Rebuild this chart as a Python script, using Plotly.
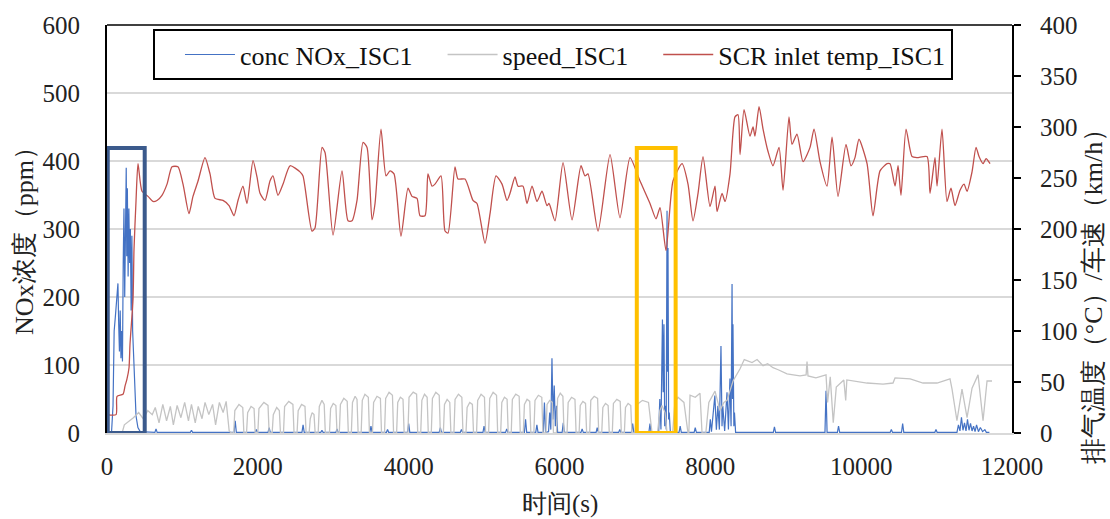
import plotly.graph_objects as go

# ---------------- data ----------------
# SCR inlet temperature (°C), right axis
temp_t = [0, 120, 133, 212, 239, 265, 292, 305, 345, 358, 385, 411, 464, 544, 610, 663, 729, 796, 862, 941,
          1008, 1087, 1140, 1207, 1299, 1366, 1432, 1538, 1618, 1684, 1737, 1803, 1856, 1936, 1989, 2029,
          2095, 2161, 2201, 2267, 2334, 2427, 2559, 2599, 2718, 2758, 2851, 2891, 2997, 3116, 3196, 3249,
          3315, 3395, 3448, 3514, 3554, 3633, 3700, 3753, 3806, 3898, 3991, 4044, 4111, 4150, 4217, 4256,
          4310, 4349, 4429, 4482, 4522, 4614, 4654, 4747, 4853, 4906, 5012, 5079, 5158, 5238, 5304, 5344,
          5410, 5450, 5516, 5569, 5636, 5702, 5768, 5834, 5861, 5940, 6047, 6166, 6285, 6338, 6378, 6511,
          6670, 6802, 6935, 7068, 7200, 7280, 7333, 7412, 7505, 7625, 7704, 7770, 7837, 7903, 7996, 8062,
          8089, 8155, 8195, 8261, 8327, 8367, 8394, 8447, 8526, 8566, 8592, 8646, 8699, 8765, 8831, 8911,
          8964, 9043, 9083, 9149, 9229, 9322, 9375, 9454, 9547, 9614, 9693, 9799, 9865, 9918, 9971, 10078,
          10157, 10250, 10343, 10383, 10449, 10489, 10528, 10595, 10674, 10741, 10873, 10913, 10979, 11006,
          11072, 11138, 11191, 11244, 11311, 11364, 11404, 11470, 11523, 11563, 11616, 11656, 11709]
temp_c = [18, 18, 36, 38, 46, 53, 64, 87, 131, 180, 228, 264, 237, 232, 227, 228, 233, 244, 261, 261,
          244, 215, 232, 247, 270, 254, 230, 228, 223, 213, 228, 242, 225, 267, 251, 235,
          228, 247, 252, 233, 244, 262, 256, 252, 198, 201, 280, 275, 194, 257, 208, 208,
          228, 285, 280, 209, 225, 298, 252, 257, 254, 193, 240, 232, 230, 213, 213, 254,
          242, 244, 252, 198, 196, 261, 249, 249, 228, 225, 186, 215, 252, 244, 228, 235,
          251, 242, 242, 225, 242, 227, 237, 223, 225, 208, 265, 209, 262, 252, 254, 198,
          273, 211, 270, 247, 225, 210, 221, 179, 247, 264, 244, 208, 235, 271, 222, 242,
          217, 235, 227, 254, 310, 312, 273, 317, 291, 300, 291, 320, 298, 276, 262, 280,
          238, 310, 283, 293, 266, 280, 298, 266, 242, 290, 232, 283, 262, 270, 288, 264,
          213, 257, 264, 264, 242, 262, 233, 298, 271, 270, 271, 235, 270, 242,
          298, 227, 240, 223, 238, 244, 237, 256, 280, 271, 264, 269, 264]

# vehicle speed (km/h), right axis
speed_t = [0, 200, 230, 300, 350, 420, 480, 540, 600,
           640, 690, 740, 790, 840, 880, 930, 980, 1030, 1080, 1120, 1170, 1210, 1260, 1300, 1350, 1400, 1440,
           1490, 1540, 1580, 1620, 1650,
           1680, 1695, 1750, 1800, 1815,
           1850, 1865, 1910, 1950, 1965,
           2000, 2015, 2080, 2135, 2150,
           2190, 2205, 2250, 2285, 2300,
           2340, 2355, 2410, 2465, 2480,
           2520, 2535, 2580, 2625, 2640,
           2680, 2695, 2720, 2745, 2760,
           2800, 2815, 2850, 2880, 2895,
           2950, 2965, 3000, 3035, 3050,
           3080, 3095, 3140, 3185, 3200,
           3240, 3255, 3290, 3315, 3330,
           3370, 3385, 3420, 3465, 3480,
           3520, 3535, 3580, 3625, 3640,
           3680, 3695, 3740, 3785, 3800,
           3840, 3855, 3890, 3925, 3940,
           3990, 4005, 4060, 4105, 4120,
           4160, 4175, 4210, 4245, 4260,
           4300, 4315, 4360, 4405, 4420,
           4460, 4475, 4510, 4545, 4560,
           4600, 4615, 4660, 4705, 4720,
           4760, 4775, 4810, 4845, 4860,
           4900, 4915, 4960, 5005, 5020,
           5060, 5075, 5120, 5165, 5180,
           5220, 5235, 5270, 5305, 5320,
           5360, 5375, 5420, 5465, 5480,
           5520, 5535, 5570, 5605, 5620,
           5660, 5675, 5720, 5765, 5780,
           5820, 5835, 5870, 5905, 5920,
           5960, 5975, 6010, 6045, 6060,
           6100, 6115, 6160, 6205, 6220,
           6260, 6275, 6310, 6345, 6360,
           6400, 6415, 6460, 6505, 6520,
           6560, 6575, 6610, 6645, 6660,
           6700, 6715, 6760, 6805, 6820,
           6860, 6875, 6910, 6945, 6960,
           7000, 7030, 7100, 7180, 7227,
           7300, 7330, 7359, 7400, 7426,
           7500, 7530, 7571, 7650, 7704,
           7715, 7731, 7800, 7863, 7890,
           7940, 7980, 8062, 8128, 8180, 8221, 8301, 8394, 8450, 8553, 8620, 8699, 8760, 8831, 8900,
           9017, 9100, 9189, 9270, 9282, 9295, 9400, 9534, 9555, 9590, 9630, 9670, 9770, 9795, 9810,
           10078, 10290, 10422, 10449, 10650, 10820, 11006, 11178, 11205, 11270, 11337, 11404, 11470,
           11550, 11616, 11669, 11735]
speed_kmh = [0, 0, 8, 12, 15, 20, 14, 22, 18,
             25, 10, 28, 12, 26, 8, 27, 15, 30, 12, 28, 10, 26, 14, 30, 18, 28, 8,
             30, 20, 31, 2, 0,
             0, 22, 28, 25, 0,
             0, 20, 26, 24, 0,
             0, 24, 30, 27, 0,
             0, 18, 25, 22, 0,
             0, 26, 31, 28, 0,
             0, 22, 28, 26, 0,
             0, 14, 20, 18, 0,
             0, 26, 32, 28, 0,
             0, 24, 29, 27, 0,
             0, 28, 34, 31, 0,
             0, 30, 36, 33, 0,
             0, 32, 38, 35, 0,
             0, 30, 36, 34, 0,
             0, 34, 40, 37, 0,
             0, 30, 35, 33, 0,
             0, 35, 40, 38, 0,
             0, 32, 38, 35, 0,
             0, 34, 40, 37, 0,
             0, 28, 33, 30, 0,
             0, 33, 38, 35, 0,
             0, 25, 30, 28, 0,
             0, 32, 38, 35, 0,
             0, 34, 40, 37, 0,
             0, 30, 35, 33, 0,
             0, 33, 38, 36, 0,
             0, 28, 33, 31, 0,
             0, 32, 37, 35, 0,
             0, 28, 32, 30, 0,
             0, 34, 39, 36, 0,
             0, 30, 35, 33, 0,
             0, 27, 31, 29, 0,
             0, 32, 36, 34, 0,
             0, 25, 29, 27, 0,
             0, 29, 33, 31, 0,
             0, 25, 29, 27, 0,
             0, 28, 32, 30, 0,
             0, 22, 27, 20, 0,
             0, 30, 35, 30, 0,
             0, 37, 35, 39, 0,
             0, 30, 41, 22, 30, 32, 51, 63, 72, 69, 72, 66, 68, 64, 62,
             58, 57, 56, 57, 70, 56, 54, 57, 30, 55, 10, 45, 52, 32, 52,
             49, 48, 49, 54, 53, 49, 49, 53, 43, 12, 43, 15, 44,
             57, 12, 51, 51]

# NOx concentration (ppm), left axis
nox_t = [0, 60, 80, 95, 110, 130, 145, 155, 165, 175, 185, 195, 205, 215, 225, 235, 245, 255, 262, 270,
         280, 290, 300, 310, 320, 330, 340, 350, 365, 385, 410, 440,
         635, 650, 665, 1105, 1120, 1135, 1685, 1700, 1715, 1965, 1980, 1995, 2135, 2150, 2165,
         2585, 2600, 2615, 2835, 2850, 2865, 3035, 3050, 3065, 3485, 3500, 3515, 3705, 3720, 3735,
         3985, 4000, 4015, 4405, 4420, 4435, 4685, 4700, 4715, 4985, 5000, 5015, 5285, 5300, 5315,
         5535, 5550, 5565, 5685, 5700, 5715, 5785, 5800, 5815,
         5855, 5870, 5885, 5900, 5915, 5930, 5945, 5960, 5975,
         6035, 6050, 6065, 6285, 6300, 6315, 6485, 6500, 6515, 6785, 6800, 6815, 6955, 6970, 6985,
         7185, 7200, 7215,
         7315, 7330, 7345, 7365, 7375, 7385, 7395, 7405, 7415, 7426, 7433, 7439, 7447, 7455, 7470,
         7585, 7600, 7615, 7785, 7800, 7815,
         7985, 8000, 8015, 8060, 8080, 8100, 8120, 8141, 8155, 8165, 8190, 8221, 8240, 8260, 8275,
         8288, 8295, 8300, 8312, 8320, 8335,
         8835, 8850, 8865, 9520, 9534, 9548, 9685, 9700, 9715, 10385, 10400, 10415, 10535, 10550, 10565,
         10977, 10992, 11007,
         11270, 11290, 11310, 11330, 11350, 11370, 11390, 11410, 11430, 11450, 11470, 11490, 11510, 11530,
         11555, 11580, 11610, 11640, 11660, 11700]
nox_ppm = [1, 1, 40, 150, 170, 200, 220, 160, 120, 180, 110, 150, 105, 250, 330, 200, 340, 390, 260, 360,
           230, 330, 250, 300, 180, 290, 150, 120, 60, 25, 8, 2,
           1, 6, 1, 1, 4, 1, 1, 18, 1, 1, 5, 1, 1, 8, 1,
           1, 12, 1, 1, 4, 1, 1, 6, 1, 1, 10, 1, 1, 5, 1,
           1, 14, 1, 1, 8, 1, 1, 5, 1, 1, 10, 1, 1, 6, 1,
           1, 20, 1, 1, 12, 1, 1, 45, 1,
           2, 30, 5, 110, 20, 70, 10, 40, 1,
           1, 15, 1, 1, 6, 1, 1, 8, 1, 1, 5, 1, 1, 14, 1,
           1, 14, 1,
           1, 50, 5, 167, 60, 160, 10, 40, 5, 327, 90, 272, 20, 30, 1,
           1, 10, 1, 1, 8, 1,
           1, 20, 2, 55, 5, 40, 5, 128, 10, 40, 3, 60, 5, 80, 10,
           219, 50, 160, 10, 30, 1,
           1, 9, 1, 1, 62, 1, 1, 10, 1, 1, 5, 1, 1, 14, 1,
           1, 5, 1,
           1, 12, 3, 23, 4, 15, 3, 20, 4, 14, 3, 10, 2, 12,
           2, 8, 2, 5, 1, 1]

# highlight boxes: [x0, x1, top] in axis units
box_blue = [10, 500, 419]
box_yellow = [7025, 7540, 419]

x_ticks = [0, 2000, 4000, 6000, 8000, 10000, 12000]
x_tick_text = ["0", "2000", "4000", "6000", "8000", "10000", "12000"]

SERIF = "Times New Roman"
FS = 25

fig = go.Figure()
fig.add_trace(go.Scatter(x=nox_t, y=nox_ppm, name="conc NOx_ISC1", mode="lines",
                         line=dict(color="#4472C4", width=1.2), yaxis="y"))
fig.add_trace(go.Scatter(x=speed_t, y=speed_kmh, name="speed_ISC1", mode="lines",
                         line=dict(color="#C4C4C4", width=1.3), yaxis="y2"))
fig.add_trace(go.Scatter(x=temp_t, y=temp_c, name="SCR inlet temp_ISC1", mode="lines",
                         line=dict(color="#C0504D", width=1.3, shape="spline", smoothing=0.6), yaxis="y2"))

for bx, col in ((box_blue, "#3B5A8C"), (box_yellow, "#FFC000")):
    fig.add_shape(type="rect", xref="x", yref="y", x0=bx[0], x1=bx[1], y0=0, y1=bx[2],
                  line=dict(color=col, width=4), fillcolor="rgba(0,0,0,0)", layer="above")

# top frame line
fig.add_shape(type="line", xref="paper", yref="paper", x0=0, x1=1, y0=1, y1=1,
              line=dict(color="black", width=1.5))

fig.update_layout(
    width=1110, height=519,
    margin=dict(l=107, r=98, t=19, b=86),
    paper_bgcolor="white", plot_bgcolor="white",
    font=dict(family=SERIF, size=FS, color="#222"),
    showlegend=True,
    legend=dict(orientation="h", x=0.0508, y=0.99, xanchor="left", yanchor="top",
                bgcolor="white", bordercolor="black", borderwidth=2,
                indentation=25, itemwidth=50,
                font=dict(family=SERIF, size=26, color="#111")),
    xaxis=dict(range=[0, 12000], tickvals=x_ticks, ticktext=x_tick_text, showgrid=False,
               zeroline=False, showline=True, linecolor="#D9D9D9", linewidth=1.5, ticks="",
               ticklabelstandoff=10, tickfont=dict(family=SERIF, size=25)),
    yaxis=dict(range=[0, 600], dtick=100, showgrid=True, gridcolor="#D9D9D9", gridwidth=2,
               zeroline=False, showline=True, linecolor="black", linewidth=2, ticks="",
               ticklabelstandoff=20, tickfont=dict(family=SERIF, size=25)),
    yaxis2=dict(range=[0, 400], dtick=50, overlaying="y", side="right", showgrid=False,
                zeroline=False, showline=True, linecolor="black", linewidth=2,
                ticks="outside", ticklen=7, tickwidth=2, tickcolor="black",
                ticklabelstandoff=14, tickfont=dict(family=SERIF, size=25)),
    annotations=[
        dict(text="NOx浓度（ppm）", xref="paper", yref="paper", x=-0.0906, y=0.4855,
             textangle=-90, showarrow=False, xanchor="center", yanchor="middle",
             font=dict(family=SERIF, size=26)),
        dict(text="排气温度（°C）/车速（km/h）", xref="paper", yref="paper", x=1.0895, y=0.35,
             textangle=-90, showarrow=False, xanchor="center", yanchor="middle",
             font=dict(family=SERIF, size=26)),
        dict(text="时间(s)", xref="paper", yref="paper", x=0.5, y=-0.174,
             showarrow=False, xanchor="center", yanchor="middle",
             font=dict(family=SERIF, size=25)),
    ],
)

fig.write_html("out.html")
